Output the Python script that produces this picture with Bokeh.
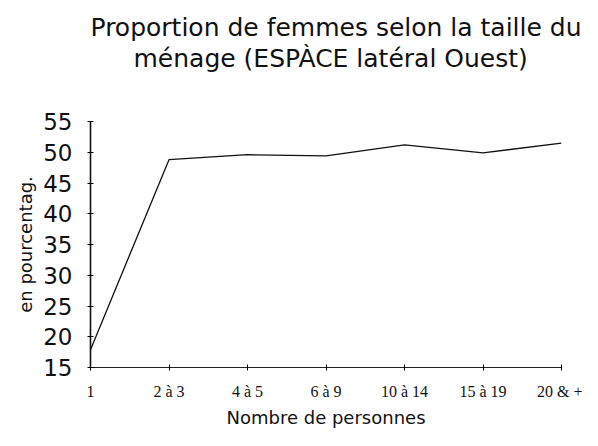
from bokeh.plotting import figure
from bokeh.models import FixedTicker, Range1d, Title
from bokeh.embed import file_html
from bokeh.resources import INLINE

# Data
categories = ["1", "2 à 3", "4 à 5", "6 à 9", "10 à 14", "15 à 19", "20 & +"]
pct_femmes = [17.9, 48.8, 49.6, 49.4, 51.2, 49.9, 51.5]
y_ticks = [15, 20, 25, 30, 35, 40, 45, 50, 55]
title_lines = ["Proportion de femmes selon la taille du", "ménage (ESPÀCE latéral Ouest)"]
title_offsets = [0, 43]

xs = list(range(len(categories)))

p = figure(width=582, height=430,
           x_range=Range1d(0, len(categories) - 1), y_range=Range1d(15, 55),
           output_backend="svg", toolbar_location=None,
           min_border_left=90, min_border_right=21,
           min_border_top=121, min_border_bottom=61)

p.title = None
p.outline_line_color = None
p.xgrid.grid_line_color = None
p.ygrid.grid_line_color = None
p.background_fill_color = "white"
p.border_fill_color = "white"

p.line(xs, pct_femmes, line_color="#111111", line_width=1.3)

# spacer (nearest to the frame), then title lines (second line first, outward)
p.add_layout(Title(text=" ", text_font_size="30px", standoff=14), "above")
for txt, off in reversed(list(zip(title_lines, title_offsets))):
    p.add_layout(Title(text=txt, align="left", offset=off, standoff=0,
                       text_font="DejaVu Sans", text_font_style="normal",
                       text_font_size="25px", text_color="#111111"), "above")
# small top spacer
p.add_layout(Title(text=" ", text_font_size="4px", standoff=0), "above")

# X axis
xa = p.xaxis[0]
xa.ticker = FixedTicker(ticks=xs)
xa.major_label_overrides = {i: c for i, c in zip(xs, categories)}
xa.major_label_text_font = "Liberation Serif"
xa.major_label_text_font_size = "16px"
xa.major_label_text_color = "#111111"
xa.major_label_standoff = 12
xa.major_tick_in = 3
xa.major_tick_out = 3
xa.minor_tick_line_color = None
xa.axis_line_color = "#222222"
xa.axis_line_width = 1
xa.axis_label = "Nombre de personnes"
xa.axis_label_text_font = "DejaVu Sans"
xa.axis_label_text_font_style = "normal"
xa.axis_label_text_font_size = "18px"
xa.axis_label_text_color = "#111111"
xa.axis_label_standoff = 4

# Y axis
ya = p.yaxis[0]
ya.ticker = FixedTicker(ticks=y_ticks)
ya.major_label_text_font = "DejaVu Sans"
ya.major_label_text_font_size = "23px"
ya.major_label_text_color = "#111111"
ya.major_label_standoff = 15
ya.major_tick_in = 3
ya.major_tick_out = 3
ya.minor_tick_line_color = None
ya.axis_line_color = "#111111"
ya.axis_line_width = 1.6
ya.axis_label = "en pourcentag."
ya.axis_label_text_font = "DejaVu Sans"
ya.axis_label_text_font_style = "normal"
ya.axis_label_text_font_size = "18px"
ya.axis_label_text_color = "#111111"
ya.axis_label_standoff = 4

open("out.html", "w").write(file_html(p, INLINE))
